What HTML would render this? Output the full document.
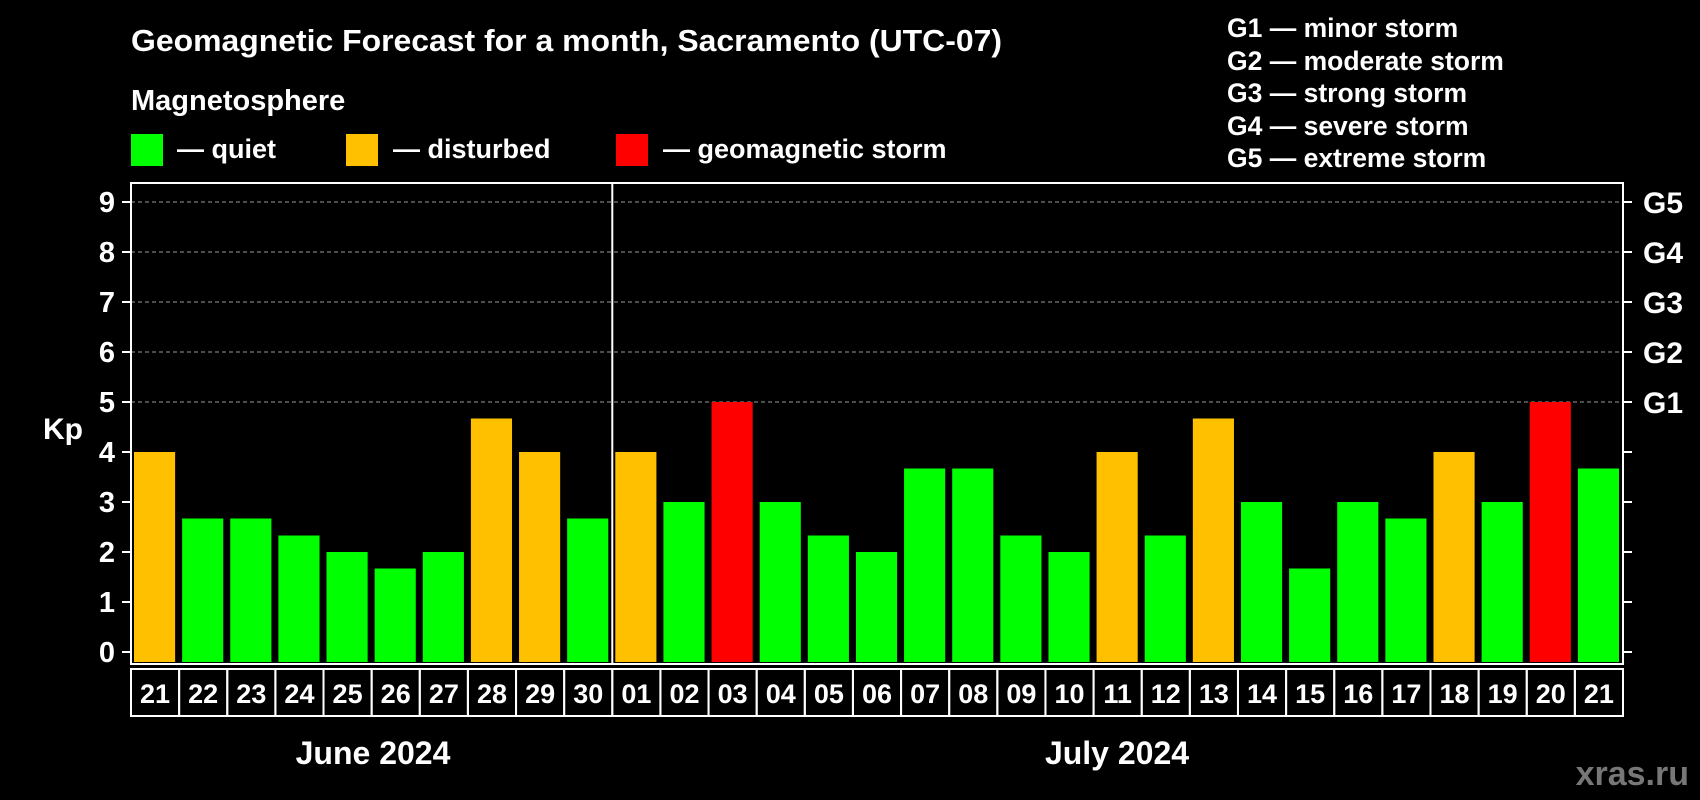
<!DOCTYPE html>
<html><head><meta charset="utf-8"><style>
html,body{margin:0;padding:0;background:#000;width:1700px;height:800px;overflow:hidden}
svg text{font-family:"Liberation Sans",Arial,sans-serif;font-weight:bold;fill:#fff}
</style></head><body>
<svg id="chart" width="1700" height="800" xmlns="http://www.w3.org/2000/svg">
<text x="131" y="51" font-size="31" textLength="871" lengthAdjust="spacingAndGlyphs">Geomagnetic Forecast for a month, Sacramento (UTC-07)</text>
<text x="131" y="110" font-size="29">Magnetosphere</text>
<g><rect x="131" y="134" width="32" height="32" fill="#00ff00"/><text x="177" y="158" font-size="27">— quiet</text></g>
<g><rect x="346" y="134" width="32" height="32" fill="#ffc000"/><text x="393" y="158" font-size="27">— disturbed</text></g>
<g><rect x="616" y="134" width="32" height="32" fill="#ff0000"/><text x="663" y="158" font-size="27">— geomagnetic storm</text></g>
<g font-size="26.5">
<text x="1227" y="37">G1 — minor storm</text>
<text x="1227" y="70">G2 — moderate storm</text>
<text x="1227" y="102">G3 — strong storm</text>
<text x="1227" y="135">G4 — severe storm</text>
<text x="1227" y="167">G5 — extreme storm</text>
</g>
<text x="43" y="439" font-size="30">Kp</text>
<g id="plot"></g>
<text x="373" y="764" font-size="32" text-anchor="middle">June 2024</text>
<text x="1117" y="764" font-size="32" text-anchor="middle">July 2024</text>
<text x="1689" y="785" font-size="34" text-anchor="end" style="fill:#777">xras.ru</text>
</svg>
<script>
const days = ["21","22","23","24","25","26","27","28","29","30","01","02","03","04","05","06","07","08","09","10","11","12","13","14","15","16","17","18","19","20","21"];
const kp = [4,2.67,2.67,2.33,2,1.67,2,4.67,4,2.67,4,3,5,3,2.33,2,3.67,3.67,2.33,2,4,2.33,4.67,3,1.67,3,2.67,4,3,5,3.67];
const yTicks = [0,1,2,3,4,5,6,7,8,9];
const gLabels = ["G1","G2","G3","G4","G5"];
const gLevels = [5,6,7,8,9];
const monthSplit = 10;

const L=131,R=1623,T=183,B=664,Y0=652,UNIT=50;
const NS="http://www.w3.org/2000/svg";
const plot=document.getElementById('plot');
const slot=(R-L)/days.length;
const xs=i=>L+i*slot;
const ys=v=>Y0-v*UNIT;
function mk(tag,attrs){const e=document.createElementNS(NS,tag);for(const k in attrs)e.setAttribute(k,attrs[k]);plot.appendChild(e);return e;}

yTicks.forEach(v=>{
  if(v>=5){const g=mk('line',{x1:L,x2:R,y1:ys(v),y2:ys(v),stroke:'#999','stroke-width':1,'stroke-dasharray':'4,3'});
  
  }
  const t1=mk('line',{x1:L-9,x2:L,y1:ys(v),y2:ys(v),stroke:'#fff','stroke-width':2});
  
  
  const t2=mk('line',{x1:R,x2:R+9,y1:ys(v),y2:ys(v),stroke:'#fff','stroke-width':2});
  
  
  const tl=mk('text',{x:115,y:ys(v)+10,'font-size':29,'text-anchor':'end'});
  tl.textContent=v;
  
  
});
gLabels.forEach((g,i)=>{
  const t=mk('text',{x:1643,y:ys(gLevels[i])+11,'font-size':30});
  t.textContent=g;
  
  
});
kp.forEach((v,i)=>{
  const c=v>=5?'#ff0000':(v>=4?'#ffc000':'#00ff00');
  const b=mk('rect',{x:xs(i)+3,y:ys(v),width:slot-7,height:B-2-ys(v),fill:c});
  
  
  const cell=mk('rect',{x:xs(i),y:669,width:slot,height:47,fill:'none',stroke:'#fff','stroke-width':2});
  
  
  const t=mk('text',{x:xs(i)+slot/2,y:703,'font-size':27,'text-anchor':'middle'});
  t.textContent=days[i];
  
  
});
const frame=mk('rect',{x:L,y:T,width:R-L,height:B-T,fill:'none',stroke:'#fff','stroke-width':2});


const sep=mk('line',{x1:xs(monthSplit),x2:xs(monthSplit),y1:T,y2:B,stroke:'#fff','stroke-width':2});


</script>
</body></html>
